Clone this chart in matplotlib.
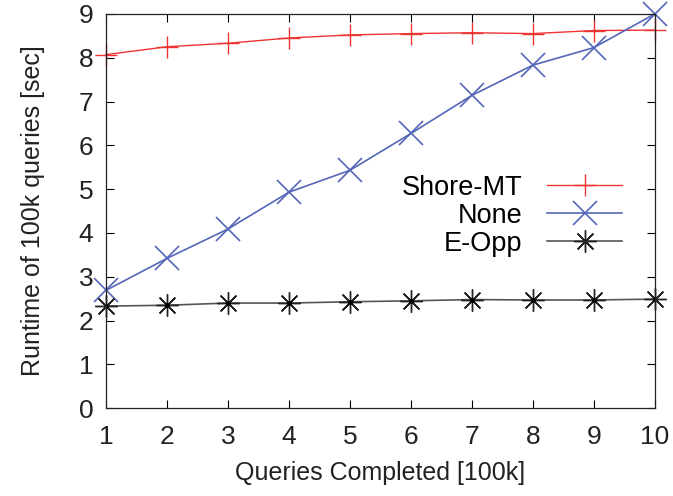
import numpy as np
import matplotlib.pyplot as plt

plt.rcParams['font.family'] = ['Liberation Sans', 'DejaVu Sans']

queries = [1, 2, 3, 4, 5, 6, 7, 8, 9, 10]
shore_mt = [8.07, 8.25, 8.33, 8.45, 8.52, 8.55, 8.57, 8.55, 8.62, 8.63]
none_vals = [2.69, 3.42, 4.09, 4.93, 5.43, 6.27, 7.14, 7.83, 8.23, 9.0]
e_opp = [2.33, 2.35, 2.40, 2.40, 2.43, 2.45, 2.48, 2.47, 2.47, 2.49]

fig = plt.figure(figsize=(6.73, 4.96), dpi=100)
ax = fig.add_axes([0.1575, 0.177, 0.8155, 0.795])

ax.plot(queries, shore_mt, color='#ee3333', lw=1.0, marker='+', ms=16,
        mew=1.0, label='Shore-MT', clip_on=False)
ax.plot(queries, none_vals, color='#5566b8', lw=1.2, marker='x', ms=17,
        mew=1.2, label='None', clip_on=False)
ax.plot(queries, e_opp, color='#555555', lw=1.2, marker=(8, 2, 0), ms=16,
        mew=1.0, mec='#222222', label='E-Opp', clip_on=False)
ax.plot(queries, e_opp, ls='none', marker='o', ms=2.5, color='black')

ax.set_xlim(1, 10)
ax.set_ylim(0, 9)
ax.set_xticks(queries)
ax.set_yticks(range(10))
ax.tick_params(direction='in', length=6, width=0.8, top=True, right=True,
               labelsize=19, pad=9, labelcolor='#222222')
ax.tick_params(axis='x', pad=12)
for s in ax.spines.values():
    s.set_linewidth(0.9)
    s.set_color('#222222')

ax.set_xlabel('Queries Completed [100k]', fontsize=18, labelpad=9, color='#222222')
ax.set_ylabel('Runtime of 100k queries [sec]', fontsize=18, labelpad=24, color='#222222')

ax.legend(loc='upper right', bbox_to_anchor=(636 / 673, 1 - 161 / 496),
          bbox_transform=fig.transFigure, frameon=False, borderpad=0,
          markerfirst=False, fontsize=19.5, handlelength=2.8, labelspacing=0.08,
          handletextpad=0.9)

fig.savefig('out.png', dpi=100)
